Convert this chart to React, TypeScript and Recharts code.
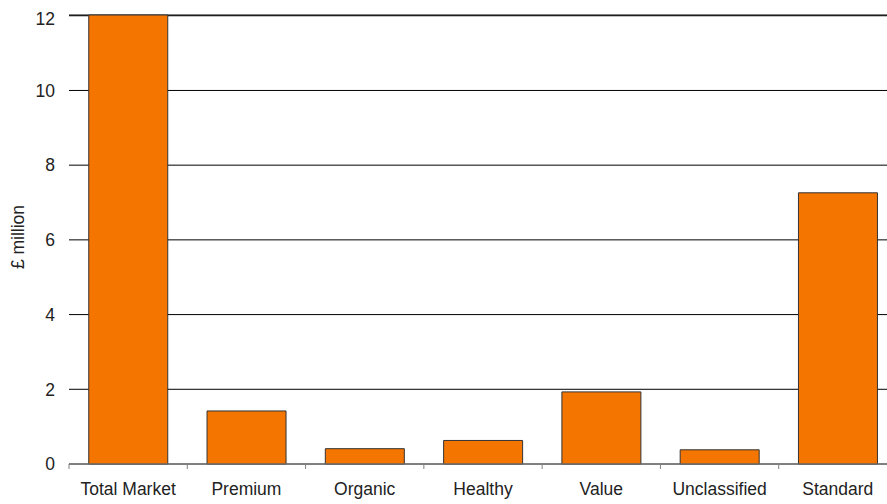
import { BarChart, Bar, XAxis, YAxis, CartesianGrid } from 'recharts';

// categories and values (£ million)
const categories = ['Total Market', 'Premium', 'Organic', 'Healthy', 'Value', 'Unclassified', 'Standard'];
const values = [12.02, 1.42, 0.41, 0.63, 1.93, 0.38, 7.26];
const yTicks = [0, 2, 4, 6, 8, 10, 12];

const data = categories.map((name, i) => ({ name, value: values[i] }));

const FONT = '"Liberation Sans", Arial, sans-serif';
const FS = 17.5;

// tick mark sits on the band boundary, label in the band centre
function CategoryTick(props: any) {
  const { x, y, payload } = props;
  const half = payload?.offset ?? 59.14;
  const axisY = y - 19;
  return (
    <g>
      <line x1={x - half} x2={x - half} y1={axisY} y2={axisY + 5} stroke="#808080" strokeWidth={1} />
      <text x={x} y={y} dy="0.71em" textAnchor="middle" fontFamily={FONT} fontSize={FS} fill="#222">
        {payload.value}
      </text>
    </g>
  );
}

export default function App() {
  return (
    <div style={{ position: 'relative', width: 887, height: 504, overflow: 'hidden' }}>
      <style>{'body{margin:0;overflow:hidden}'}</style>
      <div
        style={{
          position: 'absolute',
          left: 18,
          top: 237,
          transform: 'translate(-50%, -50%) rotate(-90deg)',
          fontFamily: FONT,
          fontSize: FS,
          color: '#222',
          whiteSpace: 'nowrap',
        }}
      >
        £ million
      </div>
      <div style={{ position: 'absolute', left: 8, top: 8 }}>
        <BarChart
          width={889}
          height={496}
          data={data}
          margin={{ top: 7, right: 0, left: 0, bottom: 0 }}
          barCategoryGap="16.7%"
        >
          <CartesianGrid vertical={false} stroke="#000" strokeWidth={1} />
          <XAxis
            dataKey="name"
            height={40}
            axisLine={{ stroke: '#808080', strokeWidth: 1 }}
            tickLine={false}
            tickSize={5}
            tickMargin={14}
            interval={0}
            tick={<CategoryTick />}
          />
          <YAxis
            width={61}
            domain={[0, 12]}
            ticks={yTicks}
            axisLine={false}
            tickLine={false}
            tickSize={6}
            tickMargin={8}
            tick={{ fontFamily: FONT, fontSize: FS, fill: '#222' }}
          />
          <Bar dataKey="value" fill="#F47500" stroke="#333" strokeWidth={1} isAnimationActive={false} />
        </BarChart>
      </div>
    </div>
  );
}
